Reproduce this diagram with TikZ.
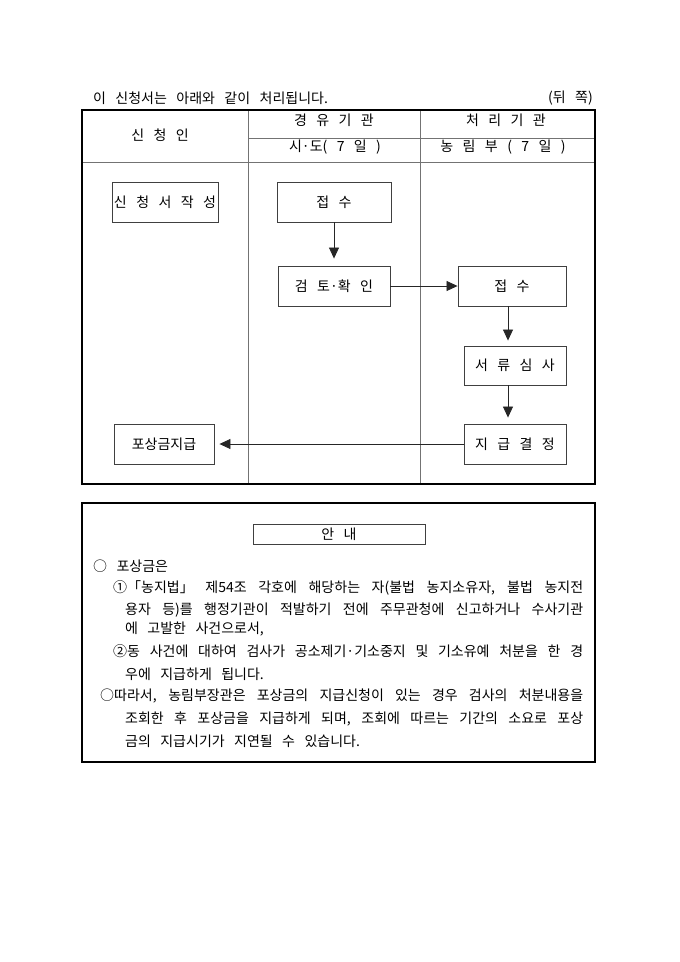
\documentclass[tikz,border=0pt]{standalone}
\usepackage{fontspec}
\setmainfont[WordSpace=3]{Noto Sans CJK KR}
\usetikzlibrary{arrows.meta}

\begin{document}
\begin{tikzpicture}[x=1pt, y=-1pt, color=black,
    every node/.style={font=\fontsize{14}{16}\selectfont, inner sep=0pt},
    flowbox/.style={draw=black!75, line width=0.9pt, minimum height=40pt},
    flow/.style={draw=black!85, line width=0.8pt, -{Triangle[length=11pt, width=10pt]}},
    rule/.style={draw=black!55, line width=0.9pt}]
  \useasboundingbox (0,0) rectangle (680,962);
  % Caption above the table
  \node[anchor=west] (title) at (93,98) {이 신청서는 아래와 같이 처리됩니다.};
  \node[anchor=east] (side) at (593,98) {(뒤 쪽)};
  % Table frame, header rows and columns
  \draw[rule] (248,138) -- (595,138);
  \draw[rule] (82,162) -- (595,162);
  \draw[rule] (248,110) -- (248,484);
  \draw[rule] (420,110) -- (420,484);
  \draw[line width=1.6pt] (82,110) rectangle (595,484);
  \node (headA) at (160,135) {신 청 인};
  \node (headB) at (334,120) {경 유 기 관};
  \node (headC) at (506,120) {처 리 기 관};
  \node (subB) at (335,147) {시·도( 7 일 )};
  \node (subC) at (503,147) {농 림 부 ( 7 일 )};
  % Steps
  \node[flowbox, minimum width=106pt] (write) at (165,202) {신 청 서 작 성};
  \node[flowbox, minimum width=114pt] (recvA) at (334,202) {접 수};
  \node[flowbox, minimum width=112pt] (check) at (334,286) {검 토·확 인};
  \node[flowbox, minimum width=108pt] (recvB) at (512,286) {접 수};
  \node[flowbox, minimum width=102pt, minimum height=39pt] (review) at (515,365.5) {서 류 심 사};
  \node[flowbox, minimum width=102pt] (decide) at (515,444) {지 급 결 정};
  \node[flowbox, minimum width=100pt] (pay) at (164,444) {포상금지급};
  \draw[flow, shorten >=7pt] (recvA) -- (check);
  \draw[flow] (check) -- (recvB);
  \draw[flow, shorten >=5pt] ([xshift=-4pt]recvB.south) -- ([xshift=-4pt]recvB.south |- review.north);
  \draw[flow, shorten >=6pt] ([xshift=-7pt]review.south) -- ([xshift=-7pt]review.south |- decide.north);
  \draw[flow, shorten >=5pt] (decide) -- (pay);
  % Notice box
  \draw[line width=1.6pt] (82,503) rectangle (595,762);
  \node[draw=black!75, line width=0.9pt, minimum width=172pt, minimum height=20pt] (notice) at (339,534) {안 내};
  \node[anchor=west] (line1) at (93,566) {○ 포상금은};
  \node[anchor=west] (line2) at (113,588) {\makebox[470pt][s]{①「농지법」 제54조 각호에 해당하는 자(불법 농지소유자, 불법 농지전}};
  \node[anchor=west] (line3) at (125,610) {\makebox[458pt][s]{용자 등)를 행정기관이 적발하기 전에 주무관청에 신고하거나 수사기관}};
  \node[anchor=west] (line4) at (125,629) {에 고발한 사건으로서,};
  \node[anchor=west] (line5) at (113,651) {\makebox[470pt][s]{②동 사건에 대하여 검사가 공소제기·기소중지 및 기소유예 처분을 한 경}};
  \node[anchor=west] (line6) at (125,674) {우에 지급하게 됩니다.};
  \node[anchor=west] (line7) at (100,696) {\makebox[483pt][s]{○따라서, 농림부장관은 포상금의 지급신청이 있는 경우 검사의 처분내용을}};
  \node[anchor=west] (line8) at (125,719) {\makebox[458pt][s]{조회한 후 포상금을 지급하게 되며, 조회에 따르는 기간의 소요로 포상}};
  \node[anchor=west] (line9) at (125,741) {금의 지급시기가 지연될 수 있습니다.};
\end{tikzpicture}
\end{document}
